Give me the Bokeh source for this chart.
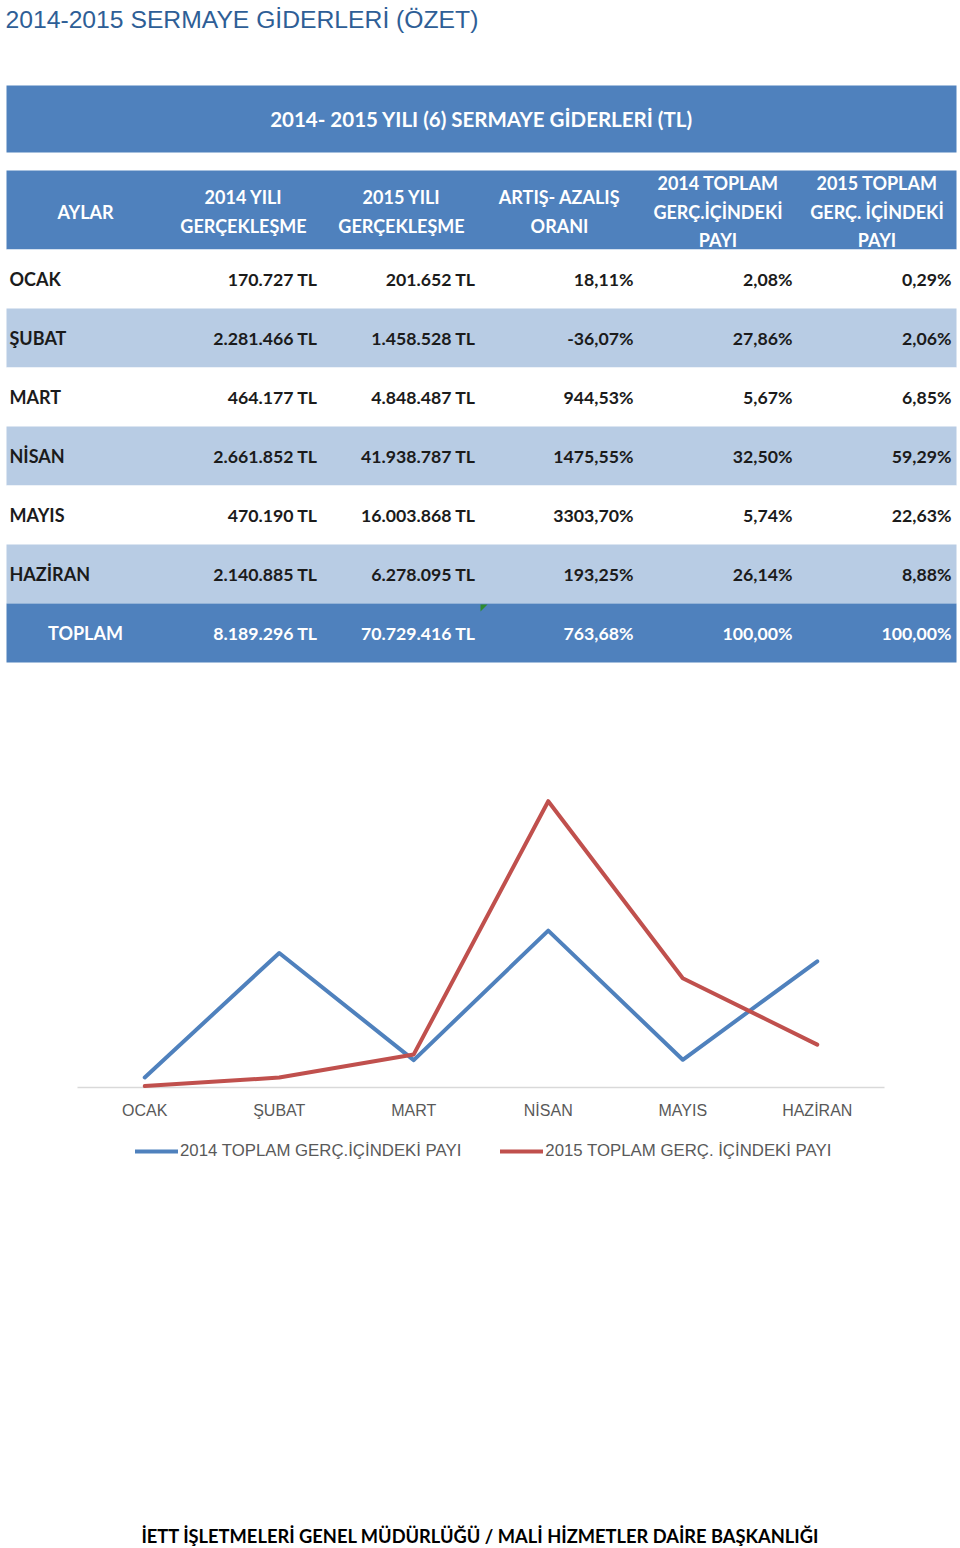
from bokeh.plotting import figure
from bokeh.models import Range1d, Legend, LegendItem
from bokeh.embed import file_html
from bokeh.resources import INLINE
from bokeh.core.properties import value

# ---------------- data ----------------
months = ["OCAK", "ŞUBAT", "MART", "NİSAN", "MAYIS", "HAZİRAN"]
gerc_2014 = [170727, 2281466, 464177, 2661852, 470190, 2140885]
gerc_2015 = [201652, 1458528, 4848487, 41938787, 16003868, 6278095]
artis_azalis = [18.11, -36.07, 944.53, 1475.55, 3303.70, 193.25]
pay_2014 = [2.08, 27.86, 5.67, 32.50, 5.74, 26.14]
pay_2015 = [0.29, 2.06, 6.85, 59.29, 22.63, 8.88]
toplam_label = "TOPLAM"
toplam_2014 = 8189296
toplam_2015 = 70729416
toplam_artis = 763.68
toplam_pay_2014 = 100.00
toplam_pay_2015 = 100.00
header_labels = [["AYLAR"],
                 ["2014 YILI", "GERÇEKLEŞME"],
                 ["2015 YILI", "GERÇEKLEŞME"],
                 ["ARTIŞ- AZALIŞ", "ORANI"],
                 ["2014 TOPLAM", "GERÇ.İÇİNDEKİ", "PAYI"],
                 ["2015 TOPLAM", "GERÇ. İÇİNDEKİ", "PAYI"]]
page_title = "2014-2015 SERMAYE GİDERLERİ (ÖZET)"
banner_title = "2014- 2015 YILI (6) SERMAYE GİDERLERİ (TL)"
series_names = ["2014 TOPLAM GERÇ.İÇİNDEKİ PAYI", "2015 TOPLAM GERÇ. İÇİNDEKİ PAYI"]
footer = "İETT İŞLETMELERİ GENEL MÜDÜRLÜĞÜ / MALİ HİZMETLER DAİRE BAŞKANLIĞI"


def tl(n):
    return f"{n:,}".replace(",", ".") + " TL"


def pct(x):
    return f"{x:.2f}".replace(".", ",") + "%"


# ---------------- styles / layout ----------------
BLUE = "#4F81BD"
LIGHT = "#B8CCE4"
DARK_TXT = "#1B1B1B"
GRAY_TXT = "#595959"
TFONT = value("Lato")
AFONT = value("Liberation Sans")
W, H = 960, 1548

# chart region (screen px)
CH_LEFT, CH_RIGHT = 77, 884
CH_ZERO, CH_TOP, CH_YMAX = 1087, 749, 70.0
px_per_unit = (CH_ZERO - CH_TOP) / CH_YMAX
cat_w = (CH_RIGHT - CH_LEFT) / len(months)
cx_start = -CH_LEFT / cat_w - 0.5
month_pos = list(range(len(months)))

p = figure(width=W, height=H, x_range=Range1d(0, W), y_range=Range1d(H, 0),
           output_backend="svg", toolbar_location=None,
           x_axis_location=None, y_axis_location=None,
           min_border=0, outline_line_color=None)
p.xgrid.visible = False
p.ygrid.visible = False
p.extra_x_ranges = {"chart_x": Range1d(start=cx_start, end=cx_start + W / cat_w)}
p.extra_y_ranges = {"chart_y": Range1d(start=(CH_ZERO - H) / px_per_unit,
                                       end=CH_ZERO / px_per_unit)}

# ---------------- page title ----------------
p.text(x=[5], y=[18.5], text=[page_title], text_font=AFONT,
       text_font_size="24.7px", text_color="#2E5E96", text_baseline="middle", text_align="left")

# ---------------- table ----------------
col_edges = [6, 164, 322, 480, 638, 797, 956]
banner_top, banner_bot = 85, 152
head_top, head_bot = 170, 249
row_h = (662 - head_bot) / 7.0

p.quad(left=[col_edges[0]] * 2, right=[col_edges[-1]] * 2,
       top=[banner_top, head_top], bottom=[banner_bot, head_bot],
       fill_color=BLUE, line_color=None)
p.text(x=[(col_edges[0] + col_edges[-1]) / 2], y=[(banner_top + banner_bot) / 2],
       text=[banner_title], text_font=TFONT, text_font_style="bold",
       text_font_size="20.5px", text_color="white", text_align="center", text_baseline="middle")

hx, hy, ht = [], [], []
hc = (head_top + head_bot) / 2 + 1.5
for j, lines in enumerate(header_labels):
    cx = (col_edges[j] + col_edges[j + 1]) / 2
    n = len(lines)
    for k, s in enumerate(lines):
        hx.append(cx)
        hy.append(hc + (k - (n - 1) / 2) * 28.5)
        ht.append(s)
p.text(x=hx, y=hy, text=ht, text_font=TFONT, text_font_style="bold",
       text_font_size="18px", text_color="white", text_align="center", text_baseline="middle")

n_rows = len(months) + 1
tops = [head_bot + i * row_h for i in range(n_rows)]
fills = ["white" if i % 2 == 0 else LIGHT for i in range(len(months))] + [BLUE]
p.quad(left=[col_edges[0]] * n_rows, right=[col_edges[-1]] * n_rows,
       top=tops, bottom=[t + row_h for t in tops], fill_color=fills, line_color=None)

# excel error-indicator triangle on the total row
tx, ty = col_edges[3], tops[-1]
p.patch(x=[tx, tx + 7, tx], y=[ty + 1, ty + 1, ty + 8], fill_color="#2E8B2E", line_color=None)

mid = [t + row_h / 2 for t in tops]
rx, ry, rt = [], [], []
right_x = [c - 5 for c in col_edges[2:]]
for i in range(len(months)):
    cells = [tl(gerc_2014[i]), tl(gerc_2015[i]), pct(artis_azalis[i]),
             pct(pay_2014[i]), pct(pay_2015[i])]
    for j, s in enumerate(cells):
        rx.append(right_x[j]); ry.append(mid[i]); rt.append(s)
p.text(x=[col_edges[0] + 3] * len(months), y=mid[:len(months)], text=months,
       text_font=TFONT, text_font_style="bold", text_font_size="18px",
       text_color=DARK_TXT, text_align="left", text_baseline="middle")
p.text(x=rx, y=ry, text=rt, text_font=TFONT, text_font_style="bold", text_font_size="17.7px",
       text_color=DARK_TXT, text_align="right", text_baseline="middle")

tot_cells = [tl(toplam_2014), tl(toplam_2015), pct(toplam_artis),
             pct(toplam_pay_2014), pct(toplam_pay_2015)]
p.text(x=[(col_edges[0] + col_edges[1]) / 2], y=[mid[-1]], text=[toplam_label],
       text_font=TFONT, text_font_style="bold", text_font_size="18px",
       text_color="white", text_align="center", text_baseline="middle")
p.text(x=right_x, y=[mid[-1]] * 5, text=tot_cells,
       text_font=TFONT, text_font_style="bold", text_font_size="17.7px",
       text_color="white", text_align="right", text_baseline="middle")

# ---------------- line chart ----------------
p.segment(x0=[CH_LEFT], x1=[CH_RIGHT], y0=[CH_ZERO], y1=[CH_ZERO],
          line_color="#D9D9D9", line_width=1.5)
r1 = p.line(x=month_pos, y=pay_2014, line_color="#4F81BD", line_width=4,
            line_join="round", line_cap="round",
            x_range_name="chart_x", y_range_name="chart_y")
r2 = p.line(x=month_pos, y=pay_2015, line_color="#C0504D", line_width=4,
            line_join="round", line_cap="round",
            x_range_name="chart_x", y_range_name="chart_y")
p.text(x=month_pos, y=[CH_ZERO + 23] * len(months), text=months, x_range_name="chart_x",
       text_font=AFONT, text_font_size="16px", text_color=GRAY_TXT,
       text_align="center", text_baseline="middle")

legend = Legend(items=[LegendItem(label=series_names[0], renderers=[r1]),
                       LegendItem(label=series_names[1], renderers=[r2])],
                orientation="horizontal", location=(135, H - 1161),
                glyph_width=43, glyph_height=20, label_standoff=2, spacing=39,
                padding=0, margin=0, border_line_color=None, background_fill_alpha=0,
                label_text_font="Liberation Sans", label_text_font_size="16.8px",
                label_text_color=GRAY_TXT)
p.add_layout(legend, "center")

# ---------------- footer ----------------
p.text(x=[480], y=[1535], text=[footer], text_font=TFONT, text_font_style="bold",
       text_font_size="18.3px", text_color="black", text_align="center", text_baseline="middle")

open("out.html", "w").write(file_html(p, INLINE))
